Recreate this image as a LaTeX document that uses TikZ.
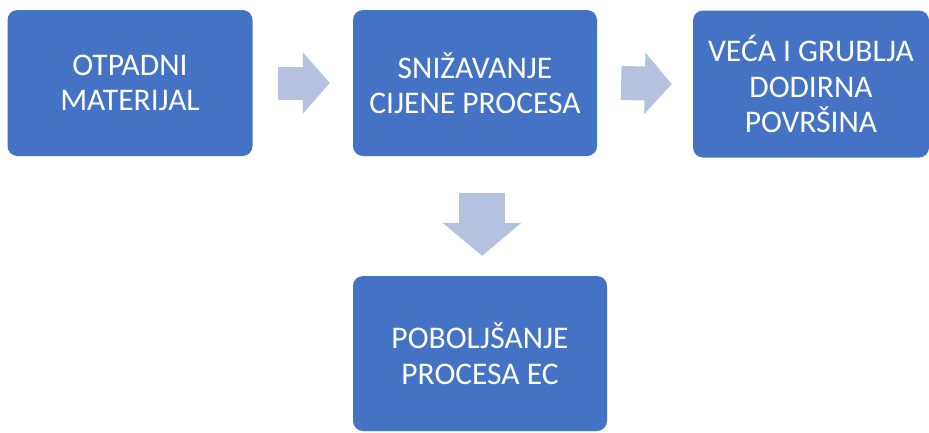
\documentclass[tikz,border=0pt]{standalone}
\usepackage{fontspec}
\setmainfont{Carlito}
\usetikzlibrary{arrows.meta,calc}
\definecolor{boxblue}{HTML}{4472C4}
\definecolor{arrowblue}{HTML}{B4C2E0}
\tikzset{
	stepbox/.style={fill=boxblue, draw=none, rounded corners=10pt, text=white,
		align=center, font=\fontsize{31.5}{35.5}\selectfont, inner sep=0pt},
	blockarrow/.style={draw=arrowblue, line width=#1, line cap=butt,
		-{Triangle[length=27pt,width=60pt,fill=arrowblue]}},
	blockdown/.style={draw=arrowblue, line width=46pt, line cap=butt,
		-{Triangle[length=33pt,width=77pt,fill=arrowblue]}}
}
\begin{document}
\begin{tikzpicture}[x=1pt,y=-1pt]
	\useasboundingbox (0,0) rectangle (929,432);
		% the four boxes
		\node[stepbox, minimum width=245pt, minimum height=146pt] (Otpadni) at (130,83)
			{OTPADNI\\MATERIJAL};
		\node[stepbox, minimum width=244pt, minimum height=146pt] (Snizavanje) at (475,83)
			{SNIŽAVANJE\\CIJENE PROCESA};
		\node[stepbox, minimum width=236pt, minimum height=147pt] (Dodirna) at (811,84)
			{VEĆA I GRUBLJA\\DODIRNA\\POVRŠINA};
		\node[stepbox, minimum width=254pt, minimum height=155pt] (Poboljsanje) at (480,353.5)
			{POBOLJŠANJE\\PROCESA EC};

		% the block arrows
		\draw[blockarrow=33pt] ($(Otpadni.east)+(25,0)$) -- ($(Snizavanje.west)+(-23,0)$);
		\draw[blockarrow=34pt] ($(Snizavanje.east)+(24,0)$) -- ($(Dodirna.west)+(-21,0)$);
		\draw[blockdown] ($(Snizavanje.south)+(7,37)$) -- ($(Poboljsanje.north)+(2,-20)$);
\end{tikzpicture}
\end{document}
